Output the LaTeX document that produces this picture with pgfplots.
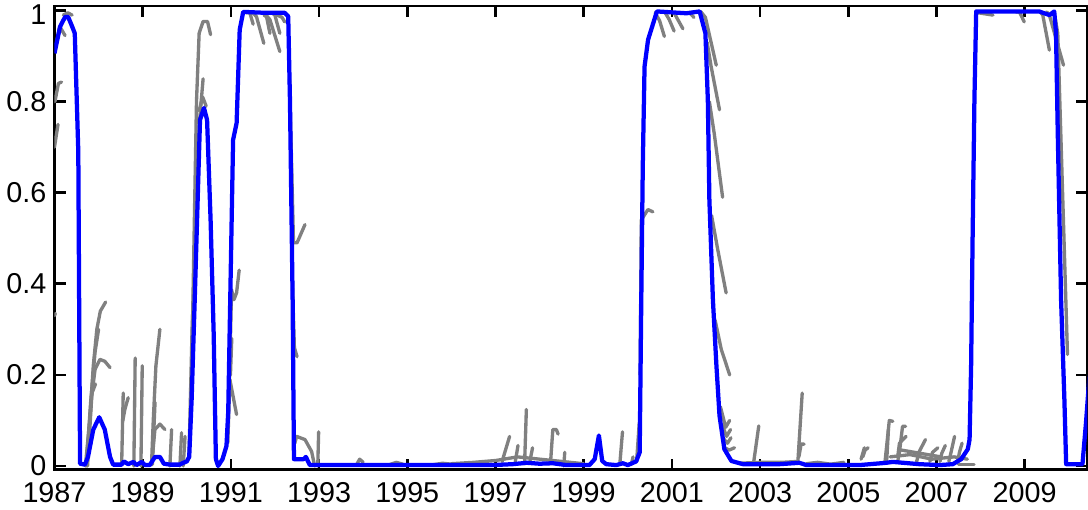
\documentclass[border=0pt]{standalone}
\usepackage{pgfplots}
\pgfplotsset{compat=1.18}
\usepackage{fontspec}
\setmainfont{Liberation Sans}
\definecolor{gr}{RGB}{128,128,128}
\definecolor{bl}{RGB}{0,0,255}
\begin{document}
\begin{tikzpicture}
\begin{axis}[
  scale only axis,
  width=449.3pt, height=201.7pt,
  xmin=1987, xmax=2010.42,
  ymin=-0.008, ymax=1.01,
  xtick={1987,1989,...,2009},
  ytick={0,0.2,0.4,0.6,0.8},
  extra y ticks={1},
  extra y tick style={yticklabel style={yshift=-1.6pt}},
  tick pos=both,
  tick align=inside,
  major tick length=4.8pt,
  axis line style={line width=1.25pt},
  every tick/.style={black, line width=1.2pt},
  /pgf/number format/1000 sep={},
  /pgf/number format/assume math mode=true,
  tick label style={font=\fontsize{12.5}{14}\selectfont},
  xticklabel style={yshift=-2pt},
  clip=true,
  gs/.style={color=gr, line width=1.45pt, line join=round, line cap=round},
]
% ---- real-time vintages (grey) ----
\addplot[gs] coordinates {(1987.0,0.70) (1987.08,0.75)};
\addplot[gs] coordinates {(1987.01,0.80) (1987.09,0.84) (1987.16,0.843)};
\addplot[gs] coordinates {(1987.0,0.33) (1987.02,0.335)};
\addplot[gs] coordinates {(1987.05,0.93) (1987.12,0.965) (1987.24,0.945)};
\addplot[gs] coordinates {(1987.20,0.99) (1987.30,0.995) (1987.40,0.99)};
\addplot[gs] coordinates {(1987.70,0.0) (1987.80,0.10) (1987.88,0.22) (1987.96,0.30) (1988.04,0.34) (1988.16,0.36)};
\addplot[gs] coordinates {(1987.72,0.0) (1987.82,0.14) (1987.92,0.25) (1988.0,0.30)};
\addplot[gs] coordinates {(1987.74,0.02) (1987.84,0.15) (1987.92,0.212) (1988.03,0.234) (1988.14,0.23) (1988.26,0.216)};
\addplot[gs] coordinates {(1987.75,0.0) (1987.85,0.16) (1987.93,0.18)};
\addplot[gs] coordinates {(1988.523,0.003) (1988.559,0.16)};
\addplot[gs] coordinates {(1988.55,0.10) (1988.598,0.125) (1988.672,0.15)};
\addplot[gs] coordinates {(1988.80,0.0) (1988.83,0.237)};
\addplot[gs] coordinates {(1988.96,0.0) (1988.99,0.22)};
\addplot[gs] coordinates {(1989.20,0.003) (1989.24,0.10) (1989.30,0.22) (1989.39,0.30)};
\addplot[gs] coordinates {(1989.22,0.003) (1989.28,0.14)};
\addplot[gs] coordinates {(1989.23,0.03) (1989.277,0.08) (1989.391,0.092) (1989.504,0.08)};
\addplot[gs] coordinates {(1989.617,0.0) (1989.656,0.08)};
\addplot[gs] coordinates {(1989.844,0.0) (1989.882,0.073)};
\addplot[gs] coordinates {(1989.92,0.0) (1989.96,0.065)};
\addplot[gs] coordinates {(1990.05,0.02) (1990.12,0.30) (1990.18,0.45) (1990.21,0.52)};
\addplot[gs] coordinates {(1990.10,0.15) (1990.22,0.80) (1990.28,0.95) (1990.37,0.976) (1990.47,0.976) (1990.54,0.947)};
\addplot[gs] coordinates {(1990.20,0.60) (1990.30,0.77) (1990.37,0.85)};
\addplot[gs] coordinates {(1990.28,0.78) (1990.36,0.81) (1990.44,0.79)};
\addplot[gs] coordinates {(1990.96,0.15) (1991.015,0.387) (1991.068,0.365) (1991.129,0.38) (1991.188,0.43)};
\addplot[gs] coordinates {(1990.93,0.05) (1990.977,0.19) (1991.129,0.113)};
\addplot[gs] coordinates {(1990.99,0.20) (1991.02,0.28)};
\addplot[gs] coordinates {(1991.35,0.995) (1991.43,0.995) (1991.505,0.97)};
\addplot[gs] coordinates {(1991.50,0.995) (1991.582,0.986) (1991.747,0.928)};
\addplot[gs] coordinates {(1991.75,0.99) (1991.81,0.986) (1991.885,0.95)};
\addplot[gs] coordinates {(1991.80,0.99) (1991.885,0.98) (1992.11,0.91)};
\addplot[gs] coordinates {(1991.93,0.995) (1991.997,0.99) (1992.11,0.95)};
\addplot[gs] coordinates {(1992.05,0.99) (1992.16,0.985) (1992.22,0.975)};
\addplot[gs] coordinates {(1992.33,0.85) (1992.42,0.49) (1992.50,0.49) (1992.68,0.53)};
\addplot[gs] coordinates {(1992.38,0.45) (1992.44,0.26) (1992.50,0.24)};
\addplot[gs] coordinates {(1992.45,0.05) (1992.49,0.065) (1992.68,0.058) (1992.83,0.032) (1992.90,0.0)};
\addplot[gs] coordinates {(1992.97,0.0) (1992.99,0.075)};
\addplot[gs] coordinates {(1993.85,0.003) (1993.92,0.015) (1994.00,0.008)};
\addplot[gs] coordinates {(1994.6,0.003) (1994.75,0.008) (1994.9,0.004)};
\addplot[gs] coordinates {(1995.6,0.003) (1995.8,0.006) (1996.0,0.004)};
\addplot[gs] coordinates {(1996.0,0.005) (1996.5,0.008) (1997.0,0.012) (1997.5,0.02) (1998.0,0.015) (1998.5,0.01) (1999.0,0.005)};
\addplot[gs] coordinates {(1997.15,0.01) (1997.32,0.065)};
\addplot[gs] coordinates {(1997.45,0.01) (1997.51,0.045)};
\addplot[gs] coordinates {(1997.66,0.005) (1997.70,0.124)};
\addplot[gs] coordinates {(1997.78,0.01) (1997.84,0.04)};
\addplot[gs] coordinates {(1998.25,0.01) (1998.30,0.08) (1998.38,0.08) (1998.42,0.07)};
\addplot[gs] coordinates {(1998.55,0.0) (1998.57,0.03)};
\addplot[gs] coordinates {(1999.82,0.005) (1999.88,0.075)};
\addplot[gs] coordinates {(2000.08,0.003) (2000.12,0.02)};
\addplot[gs] coordinates {(2000.20,0.01) (2000.26,0.095)};
\addplot[gs] coordinates {(2000.28,0.20) (2000.306,0.54) (2000.456,0.563) (2000.569,0.558)};
\addplot[gs] coordinates {(2000.62,0.995) (2000.72,0.978) (2000.83,0.943)};
\addplot[gs] coordinates {(2000.85,0.995) (2000.94,0.98) (2001.05,0.955)};
\addplot[gs] coordinates {(2001.05,0.995) (2001.135,0.98) (2001.25,0.96)};
\addplot[gs] coordinates {(2001.40,0.995) (2001.50,0.985)};
\addplot[gs] coordinates {(2001.65,0.998) (2001.76,0.985) (2002.006,0.88)};
\addplot[gs] coordinates {(2001.80,0.93) (2001.89,0.877) (2002.08,0.782)};
\addplot[gs] coordinates {(2001.85,0.80) (2001.96,0.73) (2002.15,0.59)};
\addplot[gs] coordinates {(2001.90,0.55) (2002.04,0.475) (2002.23,0.38)};
\addplot[gs] coordinates {(2001.98,0.32) (2002.12,0.256) (2002.31,0.20)};
\addplot[gs] coordinates {(2002.10,0.13) (2002.22,0.085) (2002.31,0.10)};
\addplot[gs] coordinates {(2002.14,0.09) (2002.24,0.065) (2002.33,0.08)};
\addplot[gs] coordinates {(2002.17,0.06) (2002.26,0.05) (2002.34,0.062)};
\addplot[gs] coordinates {(2002.20,0.04) (2002.30,0.035) (2002.42,0.04)};
\addplot[gs] coordinates {(2002.85,0.005) (2002.97,0.088)};
\addplot[gs] coordinates {(2002.5,0.006) (2003.0,0.008) (2003.5,0.008) (2003.85,0.01)};
\addplot[gs] coordinates {(2003.855,0.007) (2003.955,0.16)};
\addplot[gs] coordinates {(2003.88,0.02) (2003.93,0.048) (2004.0,0.048)};
\addplot[gs] coordinates {(2004.05,0.005) (2004.3,0.008) (2004.6,0.004) (2004.9,0.008)};
\addplot[gs] coordinates {(2005.29,0.015) (2005.365,0.04)};
\addplot[gs] coordinates {(2005.33,0.02) (2005.38,0.035) (2005.45,0.04)};
\addplot[gs] coordinates {(2005.83,0.007) (2005.93,0.10) (2006.01,0.098)};
\addplot[gs] coordinates {(2005.87,0.01) (2005.91,0.08)};
\addplot[gs] coordinates {(2006.12,0.01) (2006.16,0.03) (2006.23,0.087) (2006.30,0.087)};
\addplot[gs] coordinates {(2006.12,0.02) (2006.16,0.05) (2006.31,0.065)};
\addplot[gs] coordinates {(2006.55,0.01) (2006.61,0.032) (2006.75,0.058)};
\addplot[gs] coordinates {(2006.85,0.01) (2006.91,0.03) (2007.03,0.04)};
\addplot[gs] coordinates {(2007.08,0.01) (2007.12,0.028) (2007.20,0.045)};
\addplot[gs] coordinates {(2007.28,0.01) (2007.33,0.03) (2007.41,0.065)};
\addplot[gs] coordinates {(2007.48,0.01) (2007.52,0.03) (2007.58,0.05)};
\addplot[gs] coordinates {(2005.95,0.02) (2006.4,0.025) (2006.9,0.015) (2007.4,0.02) (2007.7,0.015)};
\addplot[gs] coordinates {(2006.2,0.035) (2006.5,0.03) (2006.8,0.025) (2007.1,0.02)};
\addplot[gs] coordinates {(2007.5,0.004) (2007.85,0.004)};
\addplot[gs] coordinates {(2007.95,0.995) (2008.28,0.99)};
\addplot[gs] coordinates {(2008.80,0.997) (2008.88,0.997) (2008.99,0.975)};
\addplot[gs] coordinates {(2009.35,0.997) (2009.41,0.99) (2009.56,0.913)};
\addplot[gs] coordinates {(2009.50,0.997) (2009.56,0.99) (2009.88,0.88)};
\addplot[gs] coordinates {(2009.68,0.99) (2009.75,0.95) (2009.97,0.245)};
% ---- final estimate (blue) ----
\addplot[color=bl, line width=1.85pt, line join=round] coordinates {
(1987.00,0.906) (1987.125,0.964) (1987.24,0.986) (1987.31,0.986) (1987.40,0.965)
(1987.46,0.95) (1987.54,0.69) (1987.58,0.005) (1987.69,0.003) (1987.76,0.02)
(1987.88,0.08) (1988.015,0.107) (1988.14,0.08) (1988.26,0.02) (1988.33,0.003)
(1988.52,0.003) (1988.575,0.01) (1988.67,0.004) (1988.79,0.009) (1988.86,0.002)
(1988.98,0.009) (1989.05,0.002) (1989.16,0.002) (1989.28,0.02) (1989.39,0.02)
(1989.48,0.005) (1989.62,0.003) (1989.84,0.003) (1989.92,0.007) (1990.00,0.01)
(1990.055,0.02) (1990.11,0.146) (1990.18,0.365) (1990.30,0.76) (1990.39,0.786)
(1990.46,0.76) (1990.54,0.54) (1990.61,0.29) (1990.66,0.015) (1990.71,0.0)
(1990.81,0.015) (1990.90,0.044) (1990.94,0.12) (1991.05,0.716) (1991.13,0.753)
(1991.20,0.958) (1991.28,0.997) (1991.77,0.995) (1992.22,0.995) (1992.30,0.987)
(1992.34,0.80) (1992.40,0.365) (1992.43,0.015) (1992.65,0.015) (1992.70,0.02)
(1992.79,0.002) (1996.93,0.002) (1997.39,0.004) (1997.71,0.007) (1998.00,0.005)
(1998.30,0.006) (1998.61,0.002) (1999.13,0.002) (1999.25,0.015) (1999.345,0.067)
(1999.42,0.011) (1999.51,0.004) (1999.74,0.002) (1999.89,0.006) (2000.00,0.002)
(2000.19,0.01) (2000.27,0.03) (2000.306,0.365) (2000.34,0.66) (2000.38,0.877)
(2000.46,0.936) (2000.66,0.998) (2001.33,0.994) (2001.63,0.998) (2001.76,0.95)
(2001.815,0.804) (2001.85,0.585) (2001.93,0.365) (2002.01,0.22) (2002.08,0.11)
(2002.19,0.037) (2002.35,0.011) (2002.61,0.004) (2003.44,0.004) (2003.89,0.007)
(2004.05,0.002) (2005.25,0.002) (2005.86,0.007) (2006.01,0.009) (2006.61,0.004)
(2007.07,0.002) (2007.37,0.004) (2007.56,0.015) (2007.71,0.037) (2007.75,0.058)
(2007.785,0.22) (2007.82,0.51) (2007.86,0.804) (2007.90,0.998) (2009.33,0.998)
(2009.56,0.99) (2009.67,0.998) (2009.71,0.95) (2009.75,0.73) (2009.825,0.365)
(2009.90,0.146) (2009.94,0.004) (2010.31,0.004) (2010.39,0.095) (2010.47,0.2)
};
\end{axis}
\pgfresetboundingbox
\path ([shift={(-23.7pt,-17.4pt)}]current axis.south west) rectangle ([shift={(0.3pt,2.6pt)}]current axis.north east);
\end{tikzpicture}
\end{document}
